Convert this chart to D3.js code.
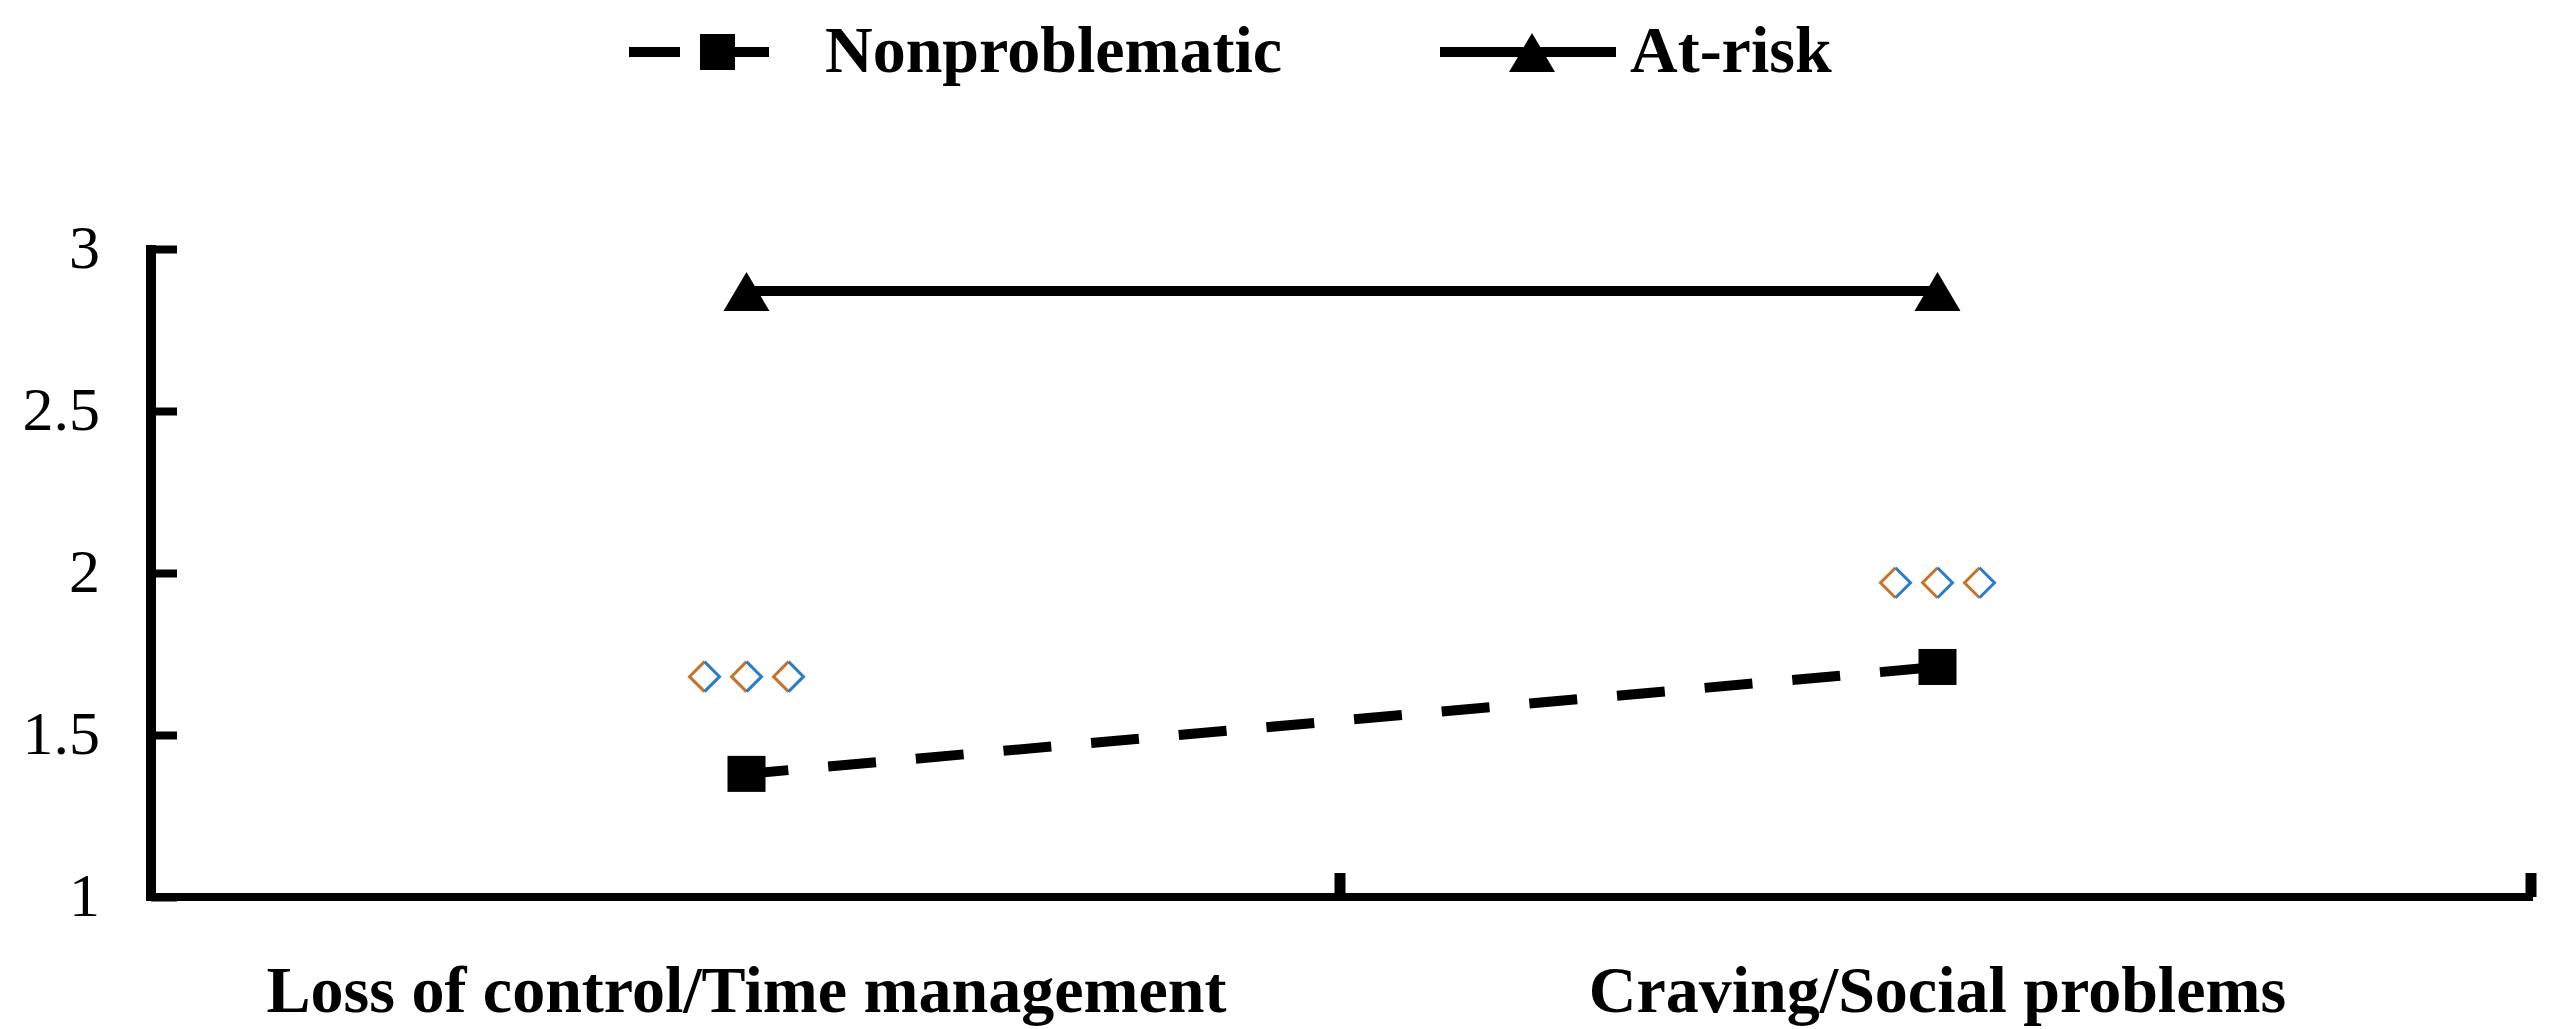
<!DOCTYPE html>
<html>
<head>
<meta charset="utf-8">
<script src="https://cdn.jsdelivr.net/npm/d3@7"></script>
<style>
  html, body { margin: 0; padding: 0; background: #fff; }
  svg { display: block; }
</style>
</head>
<body>
<script>
// ---- data ----
const categories = ["Loss of control/Time management", "Craving/Social problems"];
const seriesNames = ["Nonproblematic", "At-risk"];
const nonproblematic = [1.38, 1.71];
const atRisk = [2.87, 2.87];
const significanceY = [1.68, 1.97];   // position of the ◇◇◇ markers
const yTicks = [1, 1.5, 2, 2.5, 3];
const yTickLabels = ["1", "1.5", "2", "2.5", "3"];

// ---- layout ----
const W = 2555, H = 1029;
const plotLeft = 151, plotRight = 2533, plotTop = 249, plotBottom = 897;

const svg = d3.select("body").append("svg")
  .attr("width", W).attr("height", H);
svg.append("rect").attr("width", W).attr("height", H).attr("fill", "#fff");

const x = d3.scaleBand().domain(categories).range([plotLeft, plotRight]).padding(0);
const y = d3.scaleLinear().domain([1, 3]).range([plotBottom, plotTop]);
const cx = d => x(d) + x.bandwidth() / 2;

const serif = "'Liberation Serif', 'Times New Roman', serif";

// ---- y axis ----
const yAxis = d3.axisRight(y).tickValues(yTicks).tickSize(26).tickFormat("");
const gy = svg.append("g").attr("transform", `translate(${plotLeft},0)`).call(yAxis);
gy.select(".domain").remove();
gy.selectAll(".tick line").attr("stroke", "#000").attr("stroke-width", 8);
svg.append("line").attr("x1", plotLeft).attr("x2", plotLeft)
  .attr("y1", y(3) - 4).attr("y2", plotBottom + 4)
  .attr("stroke", "#000").attr("stroke-width", 10);
svg.selectAll("text.ylab").data(yTicks).enter().append("text")
  .attr("class", "ylab")
  .attr("x", 100).attr("y", d => y(d) + 19)
  .attr("text-anchor", "end")
  .attr("font-family", serif).attr("font-size", 62).attr("fill", "#000")
  .text((d, i) => yTickLabels[i]);

// ---- x axis ----
svg.append("line").attr("x1", plotLeft).attr("x2", plotRight)
  .attr("y1", plotBottom).attr("y2", plotBottom)
  .attr("stroke", "#000").attr("stroke-width", 8);
const xBoundaries = categories.map(c => x(c) + x.bandwidth());
svg.selectAll("line.xtick").data(xBoundaries).enter().append("line")
  .attr("class", "xtick")
  .attr("x1", d => d - 2).attr("x2", d => d - 2)
  .attr("y1", plotBottom).attr("y2", plotBottom - 24)
  .attr("stroke", "#000").attr("stroke-width", 11);
svg.selectAll("text.xlab").data(categories).enter().append("text")
  .attr("class", "xlab")
  .attr("x", d => cx(d)).attr("y", 1012)
  .attr("text-anchor", "middle")
  .attr("font-family", serif).attr("font-weight", "bold")
  .attr("font-size", 66).attr("fill", "#000")
  .text(d => d);

// ---- series ----
const line = d3.line().x(d => cx(d.c)).y(d => y(d.v));
const npData = categories.map((c, i) => ({ c, v: nonproblematic[i] }));
const arData = categories.map((c, i) => ({ c, v: atRisk[i] }));

svg.append("path").datum(arData).attr("d", line)
  .attr("fill", "none").attr("stroke", "#000").attr("stroke-width", 10);
svg.append("path").datum(npData).attr("d", line)
  .attr("fill", "none").attr("stroke", "#000").attr("stroke-width", 10)
  .attr("stroke-dasharray", "48,40").attr("stroke-dashoffset", 6);

const triPath = "M0,-19L23,20L-23,20Z";
svg.selectAll("path.tri").data(arData).enter().append("path")
  .attr("class", "tri").attr("d", triPath)
  .attr("transform", d => `translate(${cx(d.c)},${y(d.v)})`)
  .attr("fill", "#000");
svg.selectAll("rect.sq").data(npData).enter().append("rect")
  .attr("class", "sq")
  .attr("x", d => cx(d.c) - 19).attr("y", d => y(d.v) - 18)
  .attr("width", 38).attr("height", 36).attr("fill", "#000");

// ---- significance diamonds ◇◇◇ ----
const offsets = [-42, 0, 42];
const sig = svg.selectAll("g.sig").data(categories).enter().append("g")
  .attr("class", "sig")
  .attr("transform", (d, i) => `translate(${cx(d)},${y(significanceY[i])})`);
offsets.forEach(o => {
  sig.append("path").attr("d", `M${o},-15L${o - 15},0L${o},15`)
    .attr("fill", "none").attr("stroke", "#c8732a").attr("stroke-width", 3);
  sig.append("path").attr("d", `M${o},-15L${o + 15},0L${o},15`)
    .attr("fill", "none").attr("stroke", "#2b7cc9").attr("stroke-width", 3);
});

// ---- legend ----
const lg = svg.append("g");
const legY = 52;
lg.append("line").attr("x1", 629).attr("x2", 769).attr("y1", legY).attr("y2", legY)
  .attr("stroke", "#000").attr("stroke-width", 10)
  .attr("stroke-dasharray", "51,20,200");
lg.append("rect").attr("x", 700).attr("y", legY - 18).attr("width", 35).attr("height", 36)
  .attr("fill", "#000");
lg.append("text").attr("x", 825).attr("y", legY + 20)
  .attr("font-family", serif).attr("font-weight", "bold").attr("font-size", 66)
  .text(seriesNames[0]);
lg.append("line").attr("x1", 1440).attr("x2", 1616).attr("y1", legY).attr("y2", legY)
  .attr("stroke", "#000").attr("stroke-width", 10);
lg.append("path").attr("d", triPath).attr("transform", `translate(1532,${legY})`)
  .attr("fill", "#000");
lg.append("text").attr("x", 1630).attr("y", legY + 20)
  .attr("font-family", serif).attr("font-weight", "bold").attr("font-size", 66)
  .text(seriesNames[1]);
</script>
</body>
</html>
